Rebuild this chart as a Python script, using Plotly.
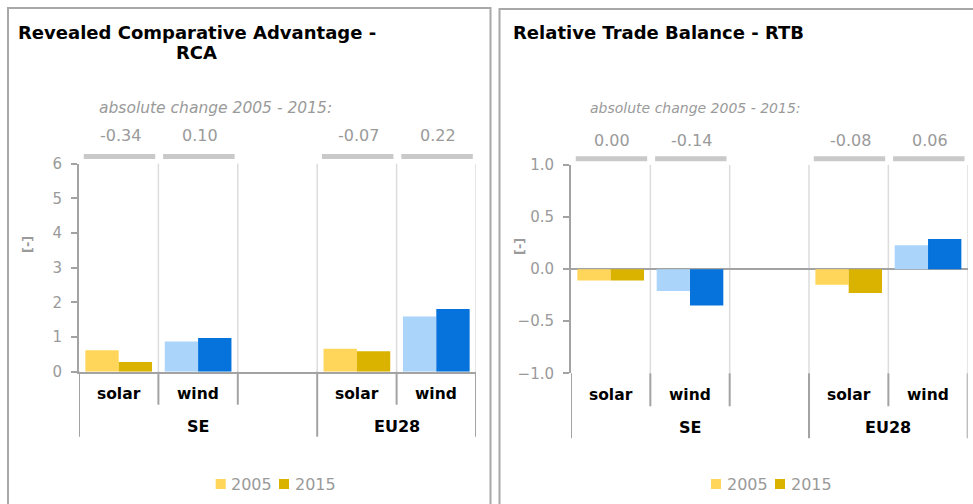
import plotly.graph_objects as go

W, H = 973, 504

# ---- data -------------------------------------------------------------
technologies = ["solar", "wind", "solar", "wind"]
regions = ["SE", "EU28"]
slot_pos = [0, 1, 3, 4]          # slot 2 is an empty spacer between SE and EU28
region_center = [1.0, 3.5]       # SE spans slots 0-2, EU28 spans slots 3-4
years = ["2005", "2015"]

rca_2005 = [0.62, 0.87, 0.66, 1.59]
rca_2015 = [0.28, 0.97, 0.59, 1.81]
rtb_2005 = [-0.11, -0.21, -0.15, 0.23]
rtb_2015 = [-0.11, -0.35, -0.23, 0.29]

rca_ticks = [0, 1, 2, 3, 4, 5, 6]
rtb_ticks = [-1.0, -0.5, 0.0, 0.5, 1.0]

# ---- styling ----------------------------------------------------------
FONT = "DejaVu Sans"
GREY_TXT = "#9a9a9a"
AXIS = "#a3a3a3"
GRID = "#dcdcdc"
CHANGE_BAR = "#c9c9c9"
SOLAR = {"2005": "#FFD65A", "2015": "#DAB200"}
WIND = {"2005": "#AAD4FA", "2015": "#0573DB"}


def px_x(x):
    return x / W


def px_y(y):
    return 1 - y / H


def bar_colors(year):
    return [SOLAR[year] if t == "solar" else WIND[year] for t in technologies]


fig = go.Figure()
shapes = []
annotations = []

panels = [
    dict(xa="x", ya="y", v05=rca_2005, v15=rca_2015, ticks=rca_ticks, fmt=".0f",
         left=79, right=476, top=163.7, bottom=371.7, rng=[0, 6],
         title_lines=[("Revealed Comparative Advantage -", 196.5, 33), ("RCA", 196, 53)],
         title_anchor="center", hint=(215, 108, 15.5), change_y=136, bar_y=156.5,
         unit=(27, 245), tech_y=394, region_y=426,
         legend=[(215.7, 229.3), (279, 292.5)], box=(8, 8, 490.5)),
    dict(xa="x2", ya="y2", v05=rtb_2005, v15=rtb_2015, ticks=rtb_ticks, fmt=".1f",
         left=571, right=967.7, top=165, bottom=373.3, rng=[-1, 1],
         title_lines=[("Relative Trade Balance - RTB", 510.7, 32)],
         title_anchor="left", hint=(695, 108, 14), change_y=140, bar_y=158.7,
         unit=(519, 247), tech_y=395, region_y=427,
         legend=[(711, 724.5), (775, 788.5)], box=(499.5, 9, 990)),
]

for i, p in enumerate(panels):
    suffix = "" if i == 0 else "2"
    for year, vals in zip(years, [p["v05"], p["v15"]]):
        fig.add_trace(go.Bar(
            x=slot_pos, y=vals, name=year, xaxis=p["xa"], yaxis=p["ya"],
            marker=dict(color=bar_colors(year), line=dict(width=0)),
            showlegend=False, hoverinfo="x+y",
        ))

    fig.update_layout({
        "xaxis" + suffix: dict(
            domain=[px_x(p["left"]), px_x(p["right"])], range=[-0.5, 4.5],
            anchor="y" + suffix, showticklabels=False, ticks="", showgrid=False,
            zeroline=False, showline=(i == 0), linecolor=AXIS, linewidth=2,
            fixedrange=True, automargin=False,
        ),
        "yaxis" + suffix: dict(
            domain=[px_y(p["bottom"]), px_y(p["top"])], range=p["rng"],
            anchor="x" + suffix, tickvals=p["ticks"], tickformat=p["fmt"],
            ticks="outside", ticklen=6, tickwidth=1.5, tickcolor=AXIS,
            ticklabelstandoff=6,
            tickfont=dict(family=FONT, size=15, color=GREY_TXT),
            showline=True, linecolor=AXIS, linewidth=2, showgrid=False,
            zeroline=(i == 1), zerolinecolor=AXIS, zerolinewidth=2,
            fixedrange=True, automargin=False,
        ),
    })

    # panel frame
    x0, y0, x1 = p["box"]
    shapes.append(dict(type="rect", xref="paper", yref="paper",
                       x0=px_x(x0), x1=px_x(x1), y0=px_y(y0), y1=px_y(520),
                       line=dict(color="#a8a8a8", width=2), layer="below"))

    # light separators between technology slots, inside the plot area
    for b in [0.5, 1.5, 2.5, 3.5, 4.5]:
        shapes.append(dict(type="line", xref=p["xa"], yref="paper", x0=b, x1=b,
                           y0=px_y(p["top"]), y1=px_y(p["bottom"]),
                           line=dict(color=GRID, width=1.5), layer="below"))
    # category-axis dividers below the plot area
    for b in [0.5, 1.5, 3.5]:
        shapes.append(dict(type="line", xref=p["xa"], yref="paper", x0=b, x1=b,
                           y0=px_y(p["bottom"]), y1=px_y(p["bottom"] + 33),
                           line=dict(color=AXIS, width=2)))
    for b in [-0.5, 2.5, 4.5]:
        shapes.append(dict(type="line", xref=p["xa"], yref="paper", x0=b, x1=b,
                           y0=px_y(p["bottom"]), y1=px_y(p["bottom"] + 65),
                           line=dict(color=AXIS, width=2)))

    # absolute change 2005 - 2015 above each technology
    for pos, a, b in zip(slot_pos, p["v05"], p["v15"]):
        change = round(b - a, 2) + 0.0
        shapes.append(dict(type="line", xref=p["xa"], yref="paper",
                           x0=pos - 0.44, x1=pos + 0.46,
                           y0=px_y(p["bar_y"]), y1=px_y(p["bar_y"]),
                           line=dict(color=CHANGE_BAR, width=5)))
        annotations.append(dict(xref=p["xa"], yref="paper", x=pos + 0.02,
                                y=px_y(p["change_y"]), text=f"{change:.2f}",
                                showarrow=False, xanchor="center", yanchor="middle",
                                font=dict(family=FONT, size=16, color=GREY_TXT)))

    hx, hy, hs = p["hint"]
    annotations.append(dict(xref="paper", yref="paper", x=px_x(hx), y=px_y(hy),
                            text="<i>absolute change 2005 - 2015:</i>", showarrow=False,
                            xanchor="center", yanchor="middle",
                            font=dict(family=FONT, size=hs, color=GREY_TXT)))

    for text, tx, ty in p["title_lines"]:
        annotations.append(dict(xref="paper", yref="paper", x=px_x(tx), y=px_y(ty),
                                text=text, showarrow=False,
                                xanchor=p["title_anchor"], yanchor="middle",
                                font=dict(family=FONT, size=18, color="#000000",
                                          weight="bold")))

    ux, uy = p["unit"]
    annotations.append(dict(xref="paper", yref="paper", x=px_x(ux), y=px_y(uy),
                            text="[-]", textangle=-90, showarrow=False,
                            xanchor="center", yanchor="middle",
                            font=dict(family=FONT, size=13, color=GREY_TXT,
                                      weight="bold")))

    # category labels: technology row and region row
    for pos, tech in zip(slot_pos, technologies):
        annotations.append(dict(xref=p["xa"], yref="paper", x=pos, y=px_y(p["tech_y"]),
                                text=tech, showarrow=False, xanchor="center",
                                yanchor="middle",
                                font=dict(family=FONT, size=15.5, color="#000000",
                                          weight="bold")))
    for cx, reg in zip(region_center, regions):
        annotations.append(dict(xref=p["xa"], yref="paper", x=cx, y=px_y(p["region_y"]),
                                text=reg, showarrow=False, xanchor="center",
                                yanchor="middle",
                                font=dict(family=FONT, size=16, color="#000000",
                                          weight="bold")))

    # legend: coloured square + year
    for (sq_x, tx), year in zip(p["legend"], years):
        shapes.append(dict(type="rect", xref="paper", yref="paper",
                           x0=px_x(sq_x), x1=px_x(sq_x + 10),
                           y0=px_y(479), y1=px_y(489),
                           fillcolor=SOLAR[year], line=dict(width=0)))
        annotations.append(dict(xref="paper", yref="paper", x=px_x(tx), y=px_y(484),
                                text=year, showarrow=False, xanchor="left",
                                yanchor="middle",
                                font=dict(family=FONT, size=16, color=GREY_TXT)))

fig.update_layout(
    width=W, height=H, autosize=False,
    margin=dict(l=0, r=0, t=0, b=0, pad=0, autoexpand=False),
    paper_bgcolor="#ffffff", plot_bgcolor="rgba(0,0,0,0)",
    barmode="group", bargap=0.16, bargroupgap=0,
    showlegend=False,
    shapes=shapes, annotations=annotations,
    font=dict(family=FONT),
)

fig.write_html("out.html", config={"displayModeBar": False})
